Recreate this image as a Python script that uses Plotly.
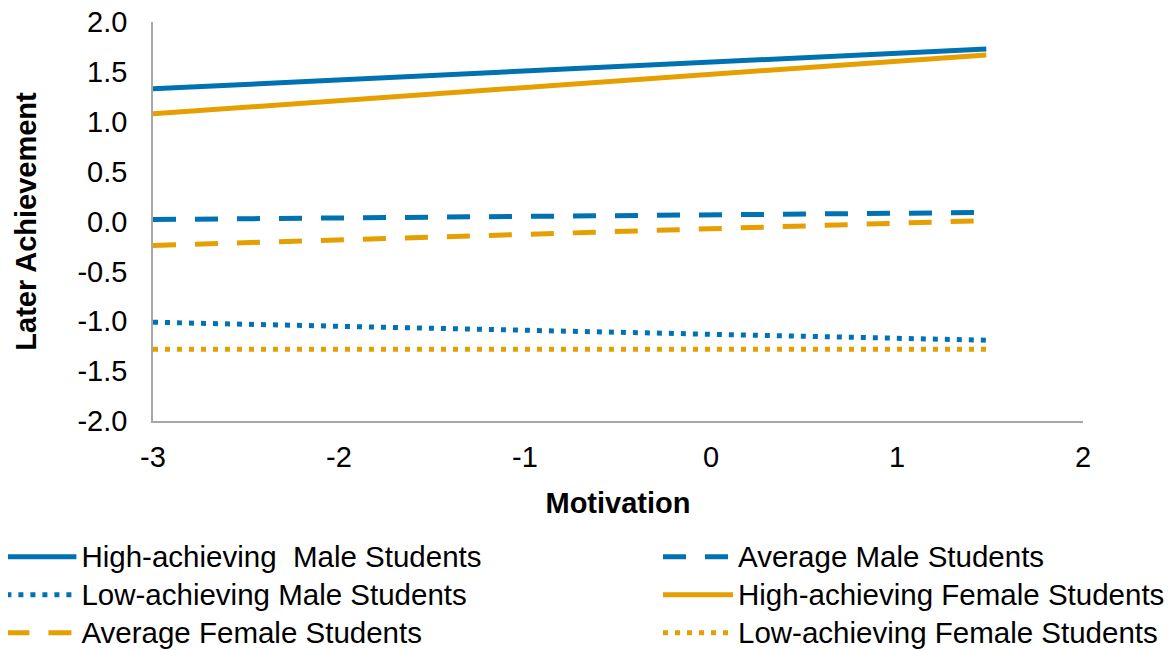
import plotly.graph_objects as go

motivation = [-3.0, 1.48]
high_male = [1.33, 1.73]
avg_male = [0.02, 0.09]
low_male = [-1.01, -1.19]
high_female = [1.08, 1.67]
avg_female = [-0.24, 0.01]
low_female = [-1.28, -1.28]

series_names = [
    "High-achieving  Male Students",
    "Average Male Students",
    "Low-achieving Male Students",
    "High-achieving Female Students",
    "Average Female Students",
    "Low-achieving Female Students",
]
series_values = [high_male, avg_male, low_male, high_female, avg_female, low_female]

x_tick_vals = [-3, -2, -1, 0, 1, 2]
x_tick_text = ["-3", "-2", "-1", "0", "1", "2"]
y_tick_vals = [-2.0, -1.5, -1.0, -0.5, 0.0, 0.5, 1.0, 1.5, 2.0]
y_tick_text = ["-2.0", "-1.5", "-1.0", "-0.5", "0.0", "0.5", "1.0", "1.5", "2.0"]

BLUE = "#0072B2"
ORANGE = "#E69F00"
DASH = "23px,19px"
DOT = "5px,7px"
styles = [
    (BLUE, "solid", "legend"),
    (BLUE, DASH, "legend2"),
    (BLUE, DOT, "legend"),
    (ORANGE, "solid", "legend2"),
    (ORANGE, DASH, "legend"),
    (ORANGE, DOT, "legend2"),
]

fig = go.Figure()
for name, vals, (color, dash, leg) in zip(series_names, series_values, styles):
    fig.add_trace(go.Scatter(
        x=motivation, y=vals, mode="lines", legend=leg,
        name=f"<span style='font-size:29.5px'>{name}</span>",
        line=dict(color=color, width=5, dash=dash),
    ))

font = "Liberation Sans, Arial, sans-serif"
legend_common = dict(
    orientation="v", yanchor="top", xanchor="left", y=-0.280,
    itemwidth=70, font=dict(size=26.9), tracegroupgap=0, traceorder="normal",
    bgcolor="rgba(0,0,0,0)",
)
# page body has an 8px default margin, so the figure is sized/offset to compensate
fig.update_layout(
    width=1165, height=642,
    margin=dict(l=145, r=90, t=14, b=229, autoexpand=False),
    plot_bgcolor="white", paper_bgcolor="white",
    font=dict(family=font, size=29, color="black"),
    xaxis=dict(
        range=[-3, 2], tickvals=x_tick_vals, ticktext=x_tick_text,
        showgrid=False, zeroline=False, showline=True, linecolor="#A6A6A6", linewidth=1.5,
        ticks="", ticklabelstandoff=9, tickfont=dict(size=29), ticklabeloverflow="allow",
        title=dict(text="<b>Motivation</b>", font=dict(size=29), standoff=21),
    ),
    yaxis=dict(
        range=[-2, 2], tickvals=y_tick_vals, ticktext=y_tick_text,
        showgrid=False, zeroline=False, showline=True, linecolor="#A6A6A6", linewidth=1.5,
        ticks="", ticklabelstandoff=18, tickfont=dict(size=29), ticklabeloverflow="allow",
        title=dict(text="<b>Later Achievement</b>", font=dict(size=29), standoff=32),
    ),
    legend=dict(x=-0.163, **legend_common),
    legend2=dict(x=0.543, **legend_common),
    showlegend=True,
)

fig.write_html("out.html")
